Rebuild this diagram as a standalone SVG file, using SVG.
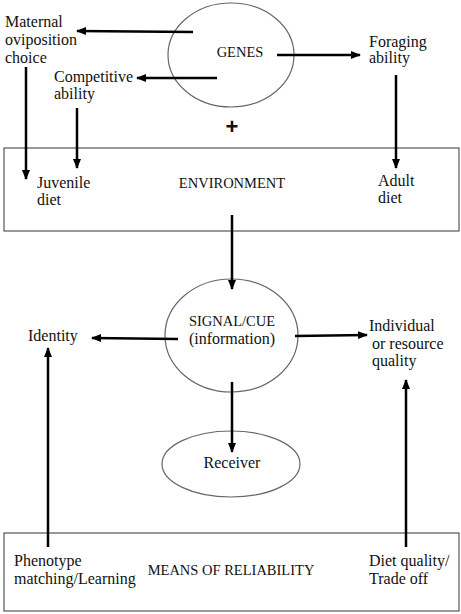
<svg xmlns="http://www.w3.org/2000/svg" width="461" height="614" viewBox="0 0 461 614">
<style>
text{font-family:"Liberation Serif","Times New Roman",serif;font-size:16px;fill:#111}
.cap{font-size:14.5px}
.mid{text-anchor:middle}
.shape{fill:none;stroke:#666;stroke-width:1.2}
.box{fill:#fff;stroke:#555;stroke-width:1.2}
.arr{stroke:#000;stroke-width:2.5;fill:none;marker-end:url(#ah)}
</style>
<defs>
<marker id="ah" markerUnits="userSpaceOnUse" markerWidth="10" markerHeight="10" viewBox="0 0 10 10" refX="9" refY="5" orient="auto">
<path d="M0,1 L10,5 L0,9 Z" fill="#000"/>
</marker>
</defs>
<rect width="461" height="614" fill="#fff"/>
<g id="environment">
<rect class="box" x="4" y="148" width="455" height="83"/>
<text class="cap mid" x="232" y="188">ENVIRONMENT</text>
<text x="37" y="188">Juvenile</text><text x="37" y="205">diet</text>
<text x="378" y="186">Adult</text><text x="378" y="203">diet</text>
</g>
<g id="means">
<rect class="box" x="4" y="533" width="455" height="78"/>
<text class="cap mid" x="231" y="575">MEANS OF RELIABILITY</text>
<text x="14" y="566">Phenotype</text><text x="14" y="584">matching/Learning</text>
<text x="369" y="566">Diet quality/</text><text x="369" y="584">Trade off</text>
</g>
<g id="genes">
<ellipse class="shape" cx="231" cy="55" rx="63" ry="52"/>
<text class="cap mid" x="240" y="57">GENES</text>
</g>
<g id="maternal"><text x="5" y="27">Maternal</text><text x="5" y="45">oviposition</text><text x="5" y="63">choice</text></g>
<g id="competitive"><text x="54" y="82">Competitive</text><text x="54" y="99">ability</text></g>
<g id="foraging"><text x="369" y="47">Foraging</text><text x="369" y="63">ability</text></g>
<g id="plus"><text class="mid" x="232" y="134" style="font-family:'Liberation Sans',sans-serif;font-size:22px;font-weight:bold">+</text></g>
<g id="signal">
<ellipse class="shape" cx="231.5" cy="335.5" rx="66.5" ry="56.5"/>
<text class="cap mid" x="232" y="326">SIGNAL/CUE</text>
<text class="mid" x="232" y="344">(information)</text>
</g>
<g id="identity"><text x="28" y="341">Identity</text></g>
<g id="quality"><text x="369" y="331">Individual</text><text x="372" y="349">or resource</text><text x="372" y="366">quality</text></g>
<g id="receiver">
<ellipse class="shape" cx="231" cy="464" rx="69" ry="33"/>
<text class="mid" x="232" y="468">Receiver</text>
</g>
<g id="connectors">
<line class="arr" x1="193" y1="32" x2="77" y2="31"/>
<line class="arr" x1="217" y1="78" x2="137" y2="78"/>
<line class="arr" x1="277" y1="55" x2="360" y2="55"/>
<line class="arr" x1="26" y1="67" x2="26" y2="179"/>
<line class="arr" x1="77" y1="108" x2="77" y2="168"/>
<line class="arr" x1="396" y1="75" x2="396" y2="168"/>
<line class="arr" x1="232" y1="215" x2="232" y2="289"/>
<line class="arr" x1="178" y1="339" x2="92" y2="338"/>
<line class="arr" x1="295" y1="336" x2="367" y2="335"/>
<line class="arr" x1="232" y1="382" x2="232" y2="452"/>
<line class="arr" x1="48" y1="547" x2="48" y2="348"/>
<line class="arr" x1="406" y1="547" x2="406" y2="380"/>
</g>
</svg>
